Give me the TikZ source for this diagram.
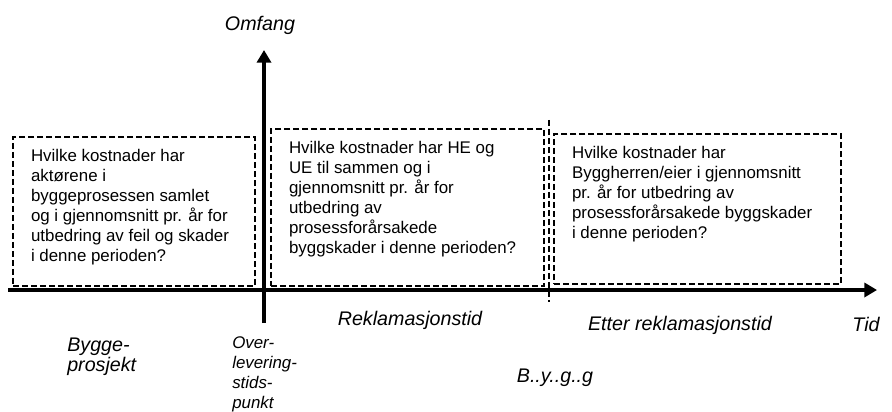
\documentclass[tikz,border=0pt]{standalone}
\usepackage{fontspec}
\setmainfont{Liberation Sans}
\usepackage{tikz}
\usetikzlibrary{calc,arrows.meta}
\tikzstyle{dashbox}=[rectangle,draw=black,dash pattern=on 4.2pt off 2.2pt,line width=1.5pt,
                     fill=white,font=\fontsize{12}{14.2}\selectfont,
                     inner xsep=0.45cm,inner ysep=0.3cm,anchor=north west]
\tikzstyle{axis}=[line width=2.2pt,-{Triangle[width=10pt,length=9pt]}]
\tikzstyle{axislabel}=[font=\fontsize{14}{13}\selectfont\itshape,inner sep=0pt,align=left]
\tikzstyle{smalllabel}=[font=\fontsize{12}{14.2}\selectfont\itshape,inner sep=0pt,align=left]
\newcommand\boxlabel[3]{\parbox[c][#2][t]{#1}{\raggedright #3}}

\begin{document}
\begin{tikzpicture}[x=0.025cm,y=-0.025cm]
    \useasboundingbox (0,0) rectangle (892,412);
    % akser
    \coordinate (tidStart) at (8,290);
    \coordinate (tidEnd) at (877,290);
    \coordinate (omfangStart) at (264,323);
    \coordinate (omfangEnd) at (264,50);
    \coordinate (divTop) at (549,120);
    \coordinate (divBot) at (549,302);

    % spoersmaal
    \node [dashbox] (byggeBox) at (12,136) {
        \boxlabel{5.15cm}{3.125cm}{Hvilke kostnader har\\ aktørene i\\ byggeprosessen samlet\\
        og i gjennomsnitt pr. år for\\ utbedring av feil og skader\\ i denne perioden?}
    };
    \node [dashbox] (reklBox) at (270,128) {
        \boxlabel{5.925cm}{3.325cm}{Hvilke kostnader har HE og\\ UE til sammen og i\\
        gjennomsnitt pr. år for\\ utbedring av\\ prosessforårsakede\\ byggskader i denne perioden?}
    };
    \node [dashbox] (etterBox) at (553,133) {
        \boxlabel{6.275cm}{3.15cm}{Hvilke kostnader har\\ Byggherren/eier i gjennomsnitt\\
        pr. år for utbedring av\\ prosessforårsakede byggskader\\ i denne perioden?}
    };

    \draw [axis] (tidStart) -- (tidEnd);
    \draw [axis] (omfangStart) -- (omfangEnd);
    \draw [dash pattern=on 4.2pt off 2.2pt,line width=1.5pt] (divTop) -- (divBot);

    % tekster
    \node [axislabel] (omfangLbl) at (260,25) {Omfang};
    \node [axislabel] (tidLbl) at (866,324) {Tid};
    \node [axislabel] (reklLbl) at (410,320) {Reklamasjonstid};
    \node [axislabel] (etterLbl) at (680,325) {Etter reklamasjonstid};
    \node [axislabel,anchor=west] (byggeLbl) at (67,357) {Bygge-\\prosjekt};
    \node [smalllabel,anchor=west] (overLbl) at (232,374) {Over-\\levering-\\stids-\\punkt};
    \node [axislabel] (byggLbl) at (555,378) {B..y..g..g};
\end{tikzpicture}
\end{document}
